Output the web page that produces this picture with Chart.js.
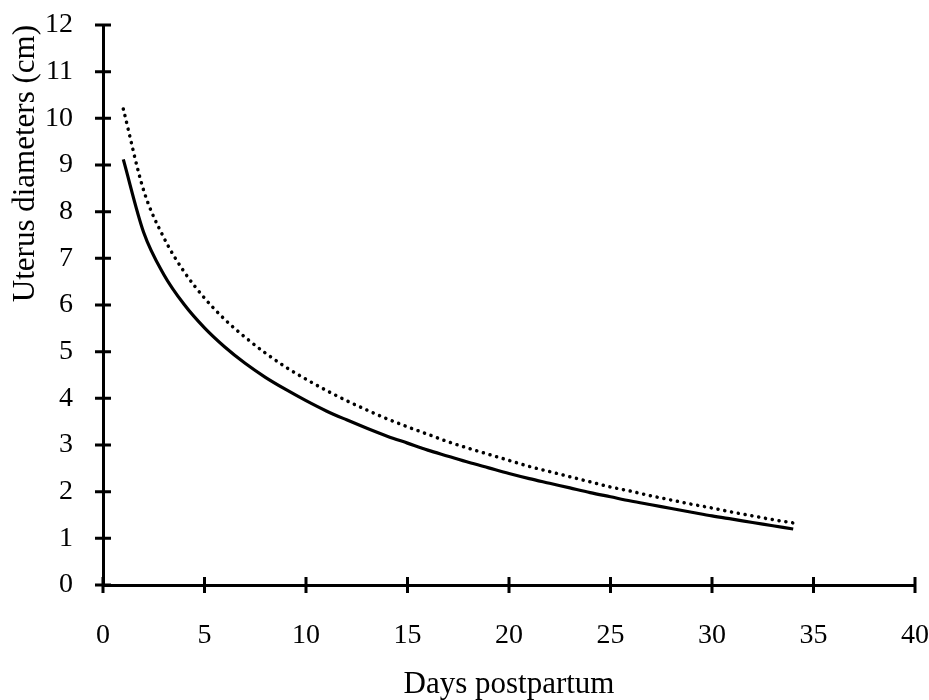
<!DOCTYPE html>
<html>
<head>
<meta charset="utf-8">
<script src="https://cdn.jsdelivr.net/npm/chart.js@4"></script>
<style>
	html, body { margin: 0; padding: 0; background: #fff; }
	#wrap { width: 929px; height: 700px; }
</style>
</head>
<body>
<div id="wrap"><canvas id="myChart" width="929" height="700"></canvas></div>
<script>
	const days = [1, 2, 3, 4, 5, 6, 7, 8, 9, 10, 11, 12, 13, 14, 15, 16, 17,
		18, 19, 20, 21, 22, 23, 24, 25, 26, 27, 28, 29, 30, 31, 32, 33, 34];

	// solid curve
	const diamSolid = [9.12, 7.56, 6.65, 6.01, 5.51, 5.10, 4.75, 4.45, 4.19, 3.95,
		3.73, 3.54, 3.36, 3.19, 3.04, 2.89, 2.76, 2.63, 2.51, 2.39,
		2.28, 2.18, 2.08, 1.98, 1.89, 1.80, 1.72, 1.64, 1.56, 1.48,
		1.41, 1.34, 1.27, 1.20];

	// dotted curve
	const diamDotted = [10.20, 8.46, 7.44, 6.71, 6.15, 5.69, 5.31, 4.97, 4.67, 4.41,
		4.17, 3.95, 3.75, 3.56, 3.39, 3.23, 3.07, 2.93, 2.80, 2.67,
		2.54, 2.43, 2.32, 2.21, 2.10, 2.01, 1.91, 1.82, 1.73, 1.65,
		1.56, 1.48, 1.40, 1.33];

	const xTicks = [0, 5, 10, 15, 20, 25, 30, 35, 40];
	const yTicks = [0, 1, 2, 3, 4, 5, 6, 7, 8, 9, 10, 11, 12];

	const xTitle = 'Days postpartum';
	const yTitle = 'Uterus diameters (cm)';

	function toPoints(vals){
		var pts = [];
		for(let i = 0; i < days.length; i++){
			pts.push({x: days[i], y: vals[i]});
		}
		return pts;
	}

	// excel style tick marks that cross the axis line
	const crossTicks = {
		id: 'crossTicks',
		afterDraw: (chart) => {
			const {ctx, chartArea, scales} = chart;
			const len = 8;
			ctx.save();
			ctx.strokeStyle = '#000';
			ctx.lineWidth = 3;
			ctx.beginPath();
			for(let v of xTicks){
				let px = scales.x.getPixelForValue(v);
				ctx.moveTo(px, chartArea.bottom - len);
				ctx.lineTo(px, chartArea.bottom + len);
			}
			for(let v of yTicks){
				let py = scales.y.getPixelForValue(v);
				ctx.moveTo(chartArea.left - len, py);
				ctx.lineTo(chartArea.left + len, py);
			}
			ctx.stroke();
			ctx.restore();
		}
	};

	const tickFont = {family: "'Liberation Serif', 'Times New Roman', serif", size: 28};
	const titleFont = {family: "'Liberation Serif', 'Times New Roman', serif", size: 31, lineHeight: 1.0};

	const config = {
		type: 'line',
		data: {
			datasets: [{
					label: 'solid',
					data: toPoints(diamSolid),
					borderColor: '#000',
					borderWidth: 3.2,
					pointRadius: 0,
					cubicInterpolationMode: 'monotone',
					fill: false
				},
				{
					label: 'dotted',
					data: toPoints(diamDotted),
					borderColor: '#000',
					borderWidth: 3.5,
					borderDash: [0.1, 6.8],
					borderCapStyle: 'round',
					pointRadius: 0,
					cubicInterpolationMode: 'monotone',
					fill: false
				}
			]
		},
		options: {
			responsive: false,
			animation: false,
			layout: {
				padding: {left: 0, top: 25, right: 14, bottom: 0}
			},
			plugins: {
				legend: {display: false},
				tooltip: {enabled: false}
			},
			scales: {
				x: {
					type: 'linear',
					min: 0,
					max: 40,
					afterBuildTicks: (scale) => {
						scale.ticks = xTicks.map(v => ({value: v}));
					},
					afterFit: (scale) => {
						scale.height = 115;
						scale.paddingLeft = 0;
						scale.paddingRight = 0;
					},
					grid: {display: false},
					border: {display: true, color: '#000', width: 3},
					ticks: {
						color: '#000',
						font: tickFont,
						padding: 26,
						maxRotation: 0
					},
					title: {
						display: true,
						text: xTitle,
						color: '#000',
						font: titleFont,
						padding: {top: 0, bottom: 0}
					}
				},
				y: {
					type: 'linear',
					min: 0,
					max: 12,
					afterBuildTicks: (scale) => {
						scale.ticks = yTicks.map(v => ({value: v}));
					},
					afterFit: (scale) => {
						scale.width = 103;
						scale.paddingTop = 0;
						scale.paddingBottom = 0;
					},
					grid: {display: false},
					border: {display: true, color: '#000', width: 3},
					ticks: {
						color: '#000',
						font: tickFont,
						padding: 22
					},
					title: {
						display: true,
						text: yTitle,
						align: 'end',
						color: '#000',
						font: titleFont,
						padding: {top: 10, bottom: 0}
					}
				}
			}
		},
		plugins: [crossTicks]
	};

	const myChart = new Chart(document.getElementById('myChart'), config);
</script>
</body>
</html>
